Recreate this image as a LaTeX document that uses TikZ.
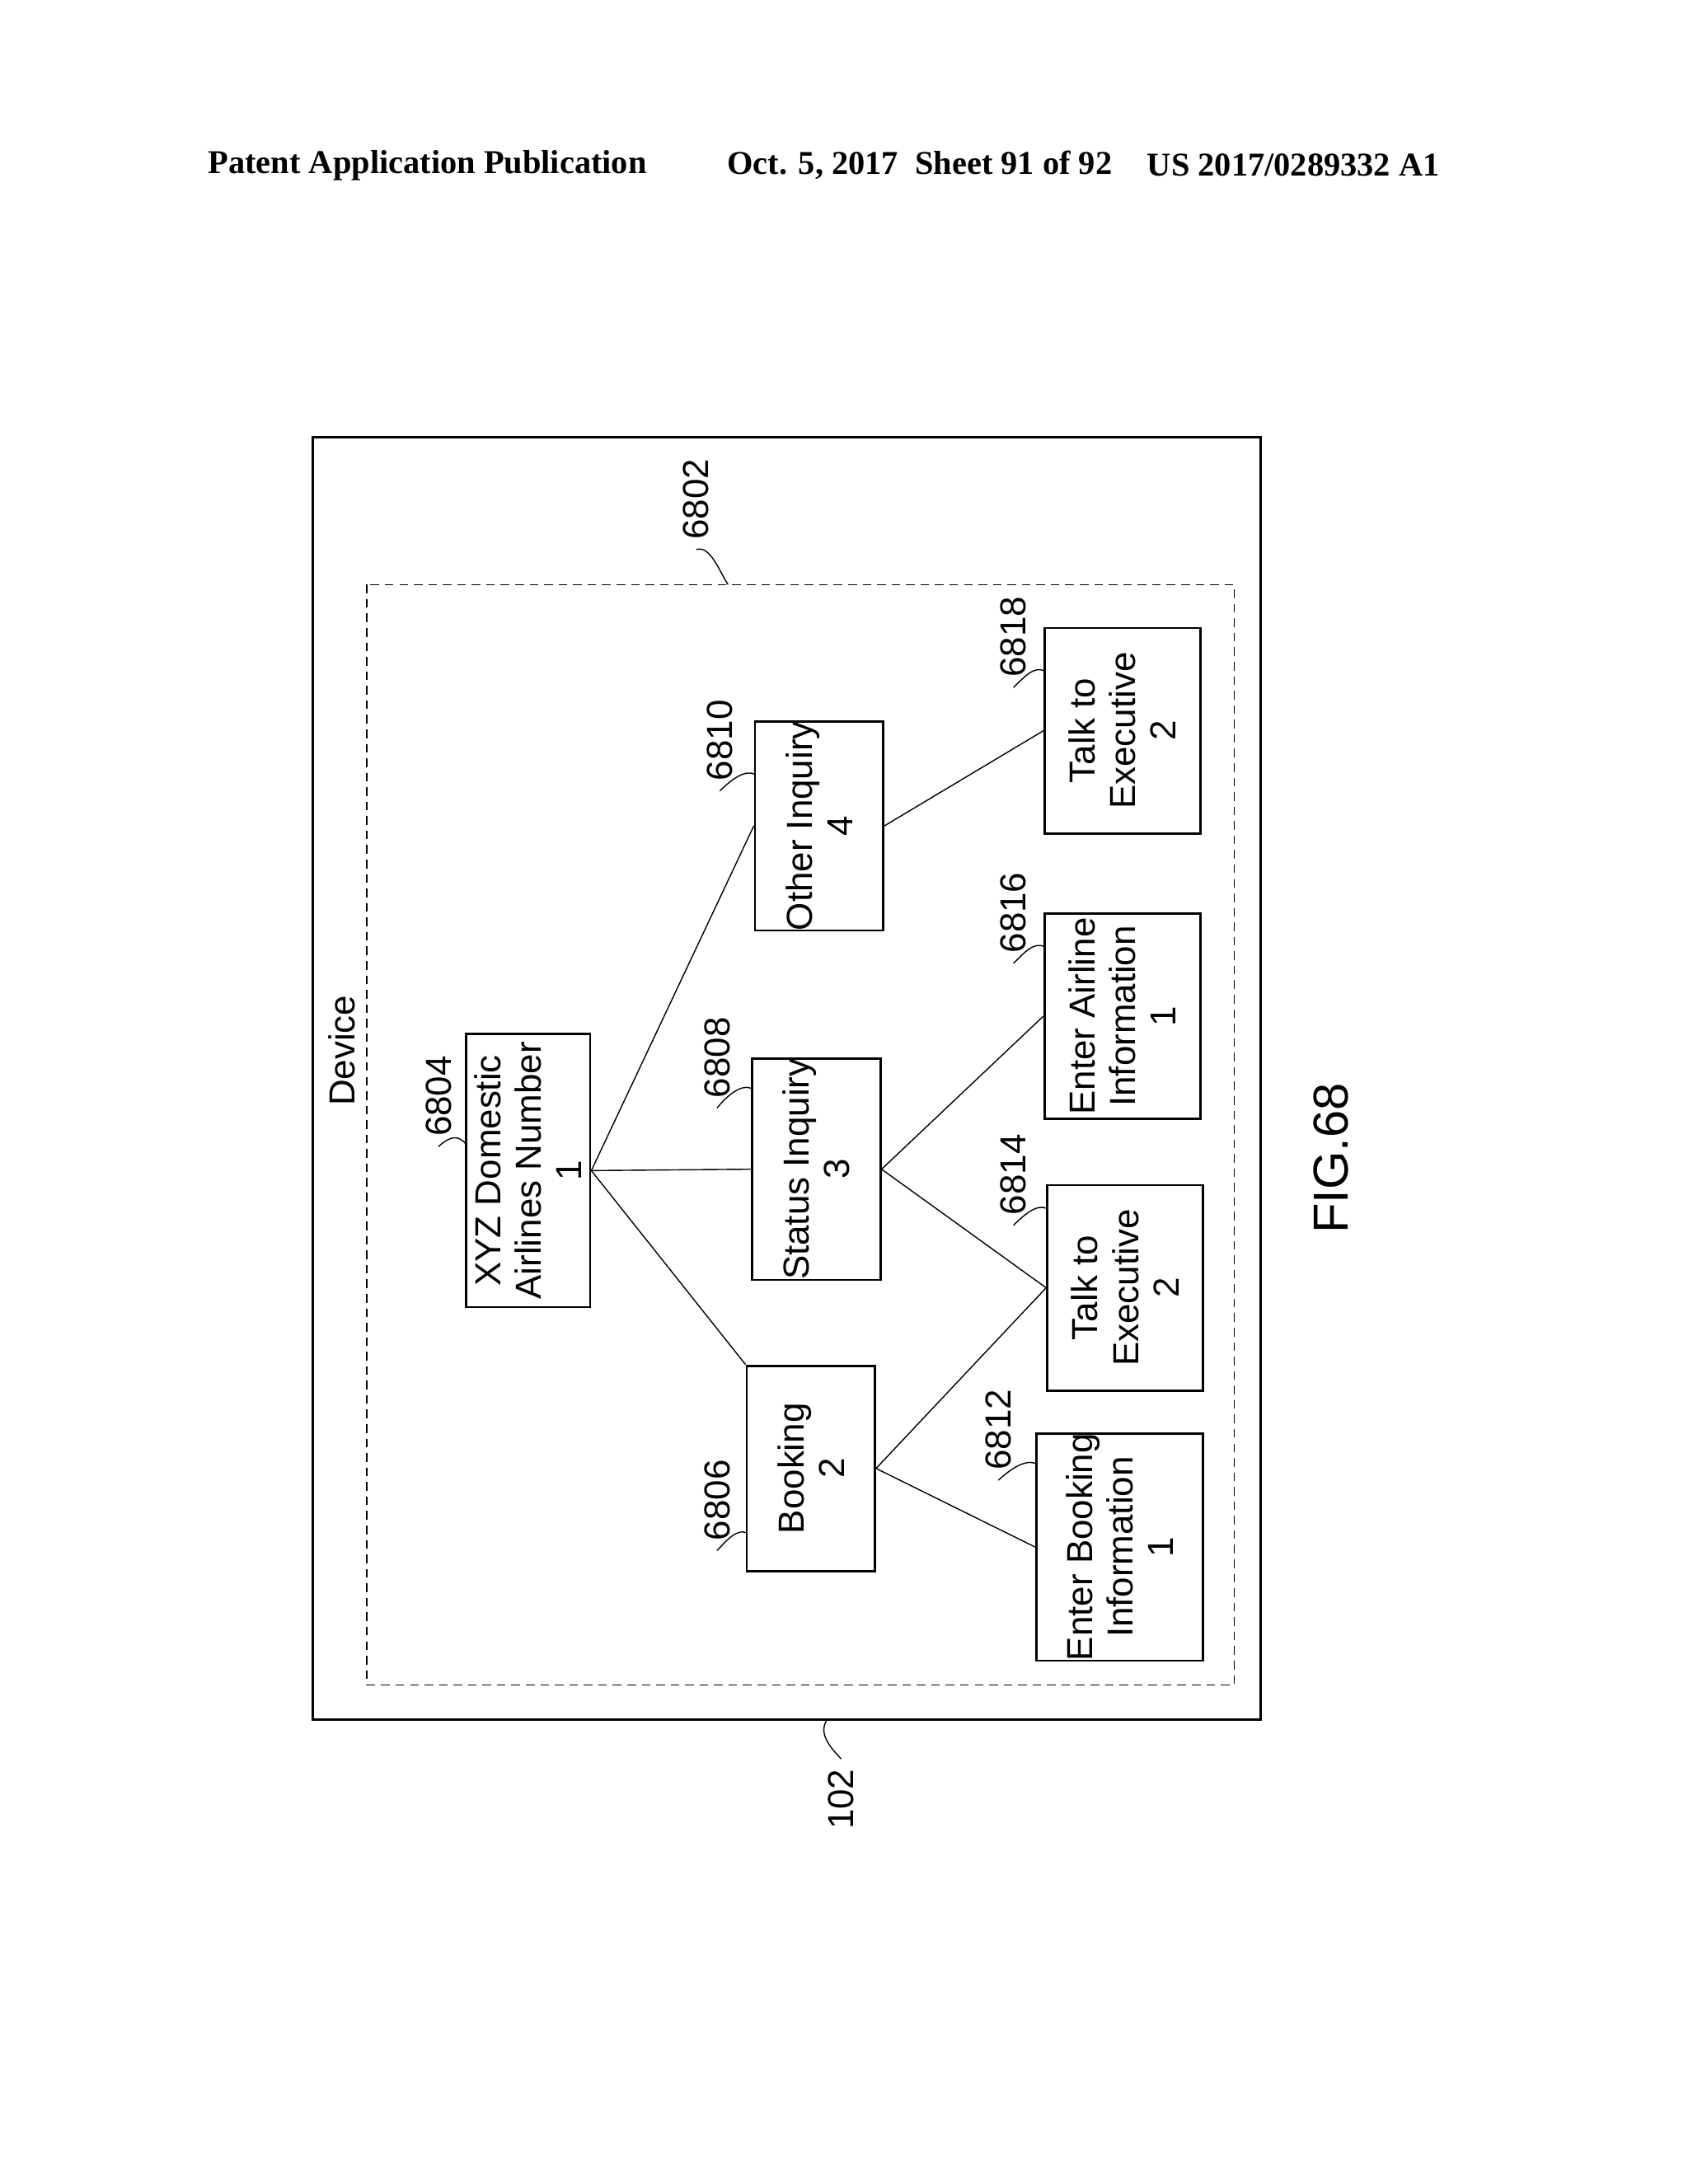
\documentclass[tikz,border=0pt]{standalone}
\usepackage{fontspec}
\setmainfont{Liberation Serif}
\newfontfamily\sansf{Liberation Sans}
\newcommand*{\txtsize}{\fontsize{12.5}{14}\selectfont}
\newcommand*{\px}{0.016733cm}

\tikzset{
    box/.style={draw, thick, rotate=90, minimum width={149*\px}, minimum height={93*\px}, align=center, font=\sansf\txtsize, inner sep=0pt},
    lbl/.style={rotate=90, font=\sansf\txtsize},
    lead/.style={thin}
}

\begin{document}
\begin{tikzpicture}[x=\px,y=-\px]
\useasboundingbox (0,0) rectangle (1224,1584);

% header
\node[font=\bfseries\fontsize{11.5}{13}\selectfont] (h1) at (310,120) {Patent Application Publication};
\node[font=\bfseries\fontsize{11.5}{13}\selectfont] (h2) at (667,120) {Oct. 5, 2017\enspace Sheet 91 of 92};
\node[font=\bfseries\fontsize{11.5}{13}\selectfont] (h3) at (938,120) {US 2017/0289332 A1};

% device and dashed frame
\draw[thick] (227,317) rectangle (914,1247);
\draw[densely dashed] (266,424) rectangle (895,1222);
\node[lbl] (dev) at (248,762) {Device};

% boxes
\node[box, minimum width={198*\px}, minimum height={90*\px}] (XYZ) at (383,849) {XYZ Domestic\\Airlines Number\\1};
\node[box] (BK) at (588,1065) {Booking\\2};
\node[box] (ST) at (592,848) {Status Inquiry\\3};
\node[box] (OT) at (594,599) {Other Inquiry\\4};
\node[box, minimum height={121*\px}] (EB) at (812,1122) {Enter Booking\\Information\\1};
\node[box, minimum height={113*\px}] (TA) at (816,934) {Talk to\\Executive\\2};
\node[box, minimum height={113*\px}] (EA) at (814,737) {Enter Airline\\Information\\1};
\node[box, minimum height={113*\px}] (TB) at (814,530) {Talk to\\Executive\\2};

% links
\draw (XYZ.south) -- (OT.north);
\draw (XYZ.south) -- (ST.north);
\draw (XYZ.south) -- (BK.north east);
\draw (BK.south) -- (TA.north);
\draw (BK.south) -- (EB.north);
\draw (ST.south) -- (TA.north);
\draw (ST.south) -- (EA.north);
\draw (OT.south) -- (TB.north);

% reference numerals
\node[lbl] (n6802) at (505,362) {6802};
\node[lbl] (n6804) at (318,795) {6804};
\node[lbl] (n6806) at (520,1088) {6806};
\node[lbl] (n6808) at (520,767) {6808};
\node[lbl] (n6810) at (522,537) {6810};
\node[lbl] (n6812) at (724,1037) {6812};
\node[lbl] (n6814) at (735,852) {6814};
\node[lbl] (n6816) at (735,662) {6816};
\node[lbl] (n6818) at (735,462) {6818};
\node[lbl] (n102) at (610,1305) {102};

% leaders
\coordinate (c6802) at (528,424);
\coordinate (c6804) at (338,830);
\coordinate (c6806) at (542,1112);
\coordinate (c6808) at (546,790);
\coordinate (c6810) at (548,562);
\coordinate (c6812) at (752,1062);
\coordinate (c6814) at (760,877);
\coordinate (c6816) at (758,687);
\coordinate (c6818) at (758,487);
\coordinate (c102) at (600,1247);
\draw[lead] (n6802.west) .. controls (515,395) and (522,415) .. (c6802);
\draw[lead] (n6804.west) .. controls (325,825) and (332,822) .. (c6804);
\draw[lead] (n6806.west) .. controls (527,1117) and (535,1108) .. (c6806);
\draw[lead] (n6808.west) .. controls (527,795) and (538,785) .. (c6808);
\draw[lead] (n6810.west) .. controls (529,567) and (540,557) .. (c6810);
\draw[lead] (n6812.west) .. controls (731,1067) and (744,1057) .. (c6812);
\draw[lead] (n6814.west) .. controls (742,882) and (752,872) .. (c6814);
\draw[lead] (n6816.west) .. controls (742,692) and (750,682) .. (c6816);
\draw[lead] (n6818.west) .. controls (742,492) and (750,482) .. (c6818);
\draw[lead] (n102.east) .. controls (605,1270) and (592,1258) .. (c102);

% figure label
\node[rotate=90, font=\sansf\fontsize{17}{20}\selectfont] (fig) at (965,840) {FIG.68};
\end{tikzpicture}
\end{document}
